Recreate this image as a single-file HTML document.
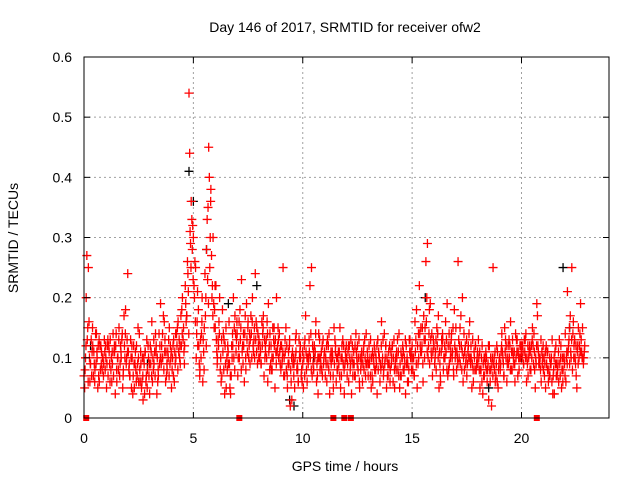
<!DOCTYPE html>
<html><head><meta charset="utf-8">
<style>
body{margin:0;background:#fff}
svg{display:block;font-family:"Liberation Sans",sans-serif}
</style></head>
<body>
<svg id="chart" width="640" height="480">
<rect width="640" height="480" fill="#fff"/>
<g id="grid"></g>
<g id="marks"></g>
<g id="axes"></g>
<text x="345" y="32" text-anchor="middle" font-size="14" fill="#000">Day 146 of 2017, SRMTID for receiver ofw2</text>
<text x="345" y="471" text-anchor="middle" font-size="14" fill="#000">GPS time / hours</text>
<text transform="translate(18,238) rotate(-90)" text-anchor="middle" font-size="14" fill="#000">SRMTID / TECUs</text>
</svg>
<script>
const xTicks=[0,5,10,15,20];
const yTicks=[0,0.1,0.2,0.3,0.4,0.5,0.6];
const yTickLabels=["0","0.1","0.2","0.3","0.4","0.5","0.6"];
const red1=[.07,.2,.25,.09,.12,.08,.1,.06,.11,.09,
.1,.07,.13,.09,.11,.06,.15,.1,.08,.18,
.24,.07,.1,.05,.12,.06,.09,.03,.11,.08,
.04,.16,.09,.12,.07,.19,.1,.13,.08,.15,
.05,.13,.1,.16,.09,.2,.12,.17,.54,.36,
.3,.25,.12,.08,.2,.15,.28,.45,.38,.3,
.15,.1,.2,.07,.13,.05,.09,.04,.12,.17,
.14,.1,.23,.12,.08,.16,.13,.2,.1,.15,
.13,.09,.17,.11,.06,.14,.08,.12,.2,.1,
.08,.25,.11,.05,.13,.03,.09,.14,.06,.1,
.09,.13,.06,.11,.25,.08,.16,.04,.1,.07,
.11,.06,.14,.09,.05,.12,.08,.15,.1,.04,
.1,.06,.13,.09,.07,.12,.05,.1,.08,.14,
.09,.13,.06,.11,.04,.1,.16,.08,.12,.07,
.08,.12,.05,.1,.14,.07,.11,.04,.09,.13,
.12,.07,.18,.1,.15,.06,.13,.29,.09,.14,
.12,.08,.17,.06,.13,.1,.19,.09,.14,.07,
.15,.26,.09,.2,.11,.07,.14,.1,.06,.12,
.09,.05,.12,.07,.1,.03,.08,.25,.06,.11,
.1,.14,.07,.12,.09,.16,.11,.06,.13,.1,
.12,.09,.14,.07,.11,.15,.08,.19,.1,.06,
.08,.05,.11,.07,.13,.04,.09,.06,.12,.08,
.14,.21,.09,.25,.12,.07,.15,.19,.1];
const red2=[.05,.27,.16,.13,.07,.14,.05,.12,.08,.13,
.05,.12,.08,.14,.04,.1,.07,.13,.17,.09,
.11,.13,.04,.09,.07,.14,.05,.1,.06,.12,
.12,.06,.11,.04,.14,.09,.17,.06,.11,.09,
.08,.06,.14,.11,.17,.13,.22,.26,.44,.33,
.22,.1,.18,.13,.06,.24,.33,.4,.27,.19,
.22,.13,.08,.18,.04,.1,.16,.07,.2,.14,
.07,.18,.11,.06,.19,.1,.17,.12,.24,.09,
.1,.16,.07,.13,.19,.09,.15,.05,.11,.14,
.12,.07,.15,.09,.02,.11,.05,.08,.13,.07,
.05,.17,.1,.22,.07,.12,.06,.14,.09,.13,
.07,.13,.04,.1,.15,.06,.11,.05,.13,.09,
.07,.12,.04,.11,.14,.08,.1,.06,.13,.09,
.12,.05,.1,.08,.13,.06,.09,.14,.05,.11,
.11,.06,.09,.13,.05,.1,.08,.12,.06,.1,
.08,.16,.05,.22,.11,.17,.26,.1,.19,.07,
.09,.15,.05,.11,.08,.16,.07,.12,.1,.18,
.08,.13,.17,.06,.12,.09,.16,.05,.11,.08,
.13,.08,.04,.1,.06,.12,.02,.09,.07,.05,
.08,.11,.15,.06,.13,.08,.1,.14,.07,.12,
.1,.13,.06,.1,.08,.12,.05,.17,.09,.11,
.1,.12,.06,.09,.04,.11,.07,.13,.05,.1,
.06,.11,.17,.08,.13,.05,.1,.13,.09];
const red3=[.1,.15,.06,.11,.09,.14,.07,.12,.1,.08,
.12,.09,.06,.11,.14,.08,.12,.05,.1,.13,
.09,.05,.12,.08,.15,.06,.1,.04,.13,.07,
.11,.08,.14,.06,.12,.1,.16,.07,.13,.1,
.12,.09,.15,.1,.18,.11,.16,.21,.29,.32,
.26,.16,.09,.14,.11,.2,.35,.3,.22,.18,
.11,.16,.06,.14,.09,.12,.05,.1,.15,.13,
.12,.15,.09,.17,.11,.14,.1,.13,.16,.12,
.11,.14,.1,.16,.12,.08,.13,.11,.15,.09,
.1,.07,.12,.09,.06,.1,.13,.08,.11,.06,
.12,.08,.1,.14,.09,.11,.07,.13,.08,.1,
.09,.12,.07,.1,.13,.08,.11,.07,.12,.1,
.11,.08,.12,.07,.1,.13,.09,.11,.07,.1,
.1,.07,.12,.09,.11,.08,.13,.1,.07,.12,
.1,.13,.08,.11,.07,.12,.09,.1,.13,.08,
.1,.13,.09,.12,.15,.1,.2,.14,.11,.13,
.11,.14,.09,.12,.1,.13,.08,.11,.15,.1,
.1,.12,.08,.14,.1,.12,.09,.13,.08,.1,
.08,.1,.07,.11,.09,.06,.1,.08,.12,.09,
.11,.09,.13,.1,.12,.08,.11,.13,.1,.12,
.11,.13,.09,.12,.1,.14,.09,.11,.08,.1,
.09,.11,.07,.1,.08,.12,.09,.07,.1,.09,
.11,.13,.1,.16,.09,.12,.14,.1,.11];
const red4=[.08,.13,.1,.07,.11,.09,.12,.08,.1,.11,
.09,.11,.1,.07,.12,.1,.09,.14,.12,.1,
.08,.1,.07,.11,.09,.08,.06,.09,.07,.1,
.09,.1,.07,.1,.09,.12,.08,.11,.1,.12,
.1,.11,.12,.13,.12,.15,.19,.24,.31,.28,
.2,.14,.12,.1,.13,.17,.23,.25,.2,.15,
.13,.12,.1,.11,.12,.08,.09,.12,.1,.11,
.1,.13,.12,.14,.13,.12,.14,.11,.13,.14,
.12,.12,.13,.1,.11,.12,.1,.13,.12,.11,
.09,.1,.08,.11,.08,.09,.1,.09,.1,.08,
.1,.11,.09,.1,.12,.1,.09,.1,.11,.09,
.1,.09,.1,.11,.09,.1,.09,.1,.09,.11,
.09,.1,.1,.09,.11,.1,.08,.09,.1,.11,
.09,.1,.09,.1,.08,.09,.1,.09,.1,.09,
.09,.1,.1,.08,.09,.1,.1,.09,.08,.11,
.1,.11,.12,.14,.12,.13,.16,.12,.13,.11,
.1,.12,.11,.13,.1,.11,.12,.1,.11,.12,
.11,.1,.12,.1,.09,.11,.1,.09,.1,.09,
.1,.08,.09,.09,.08,.08,.09,.1,.09,.08,
.09,.1,.11,.09,.1,.11,.09,.1,.11,.1,
.12,.11,.1,.11,.12,.09,.1,.12,.1,.09,
.07,.09,.08,.09,.07,.09,.08,.09,.08,.1,
.1,.12,.11,.14,.1,.11,.12,.11,.1];
const red5=[.12,.06,.09,.15,.06,.11,.13,.09,.07,.12,
.13,.06,.11,.12,.08,.13,.11,.07,.14,.11,
.07,.12,.09,.06,.1,.11,.07,.11,.05,.09,
.07,.13,.11,.08,.1,.14,.11,.09,.07,.11,
.07,.14,.08,.12,.14,.09,.17,.14,.25,.23,
.16,.21,.07,.16,.08,.12,.19,.36,.17,.22,
.09,.14,.13,.08,.15,.11,.07,.14,.08,.16,
.16,.08,.14,.1,.15,.09,.16,.15,.11,.1,
.09,.15,.12,.14,.08,.1,.15,.09,.13,.12,
.11,.13,.07,.12,.1,.07,.11,.06,.12,.11,
.07,.1,.13,.08,.11,.14,.1,.08,.12,.11,
.12,.08,.11,.07,.11,.1,.07,.12,.08,.12,
.12,.09,.07,.12,.09,.06,.11,.12,.09,.07,
.07,.11,.08,.12,.1,.12,.07,.12,.09,.06,
.12,.08,.11,.07,.11,.08,.13,.06,.11,.1,
.07,.09,.14,.11,.09,.15,.11,.18,.1,.12,
.13,.1,.07,.14,.12,.08,.14,.13,.08,.11,
.09,.15,.11,.08,.13,.1,.12,.08,.12,.11,
.11,.06,.1,.08,.12,.1,.07,.11,.06,.1,
.12,.07,.1,.12,.08,.13,.09,.11,.08,.11,
.09,.1,.12,.08,.13,.11,.12,.09,.13,.12,
.11,.08,.1,.06,.1,.07,.11,.1,.06,.07,
.09,.15,.13,.1,.12,.09,.11,.15,.12];
const blackTimes=[0.3,2.9,4.8,5.0,5.6,6.6,7.9,9.4,9.6,10.5,12.3,15.6,18.5,20.0,21.9,22.2];
const blackValues=[.12,.09,.41,.36,.28,.19,.22,.03,.02,.1,.09,.2,.05,.1,.25,.15];
const zeroTimes=[0.1,7.1,11.4,11.9,12.2,20.7];

const L=84,R=609,T=57,B=418,XMAX=24,YMAX=0.6;
const xs=v=>L+(R-L)*v/XMAX;
const ys=v=>B-(B-T)*v/YMAX;
const NS="http://www.w3.org/2000/svg";
function mk(tag,attrs,parent){const e=document.createElementNS(NS,tag);for(const k in attrs)e.setAttribute(k,attrs[k]);parent.appendChild(e);return e;}
const grid=document.getElementById('grid'),marks=document.getElementById('marks'),axes=document.getElementById('axes');

xTicks.forEach(t=>{
  if(t>0){const g=mk('line',{x1:xs(t),x2:xs(t),y1:T,y2:B,stroke:'#a0a0a0','stroke-dasharray':'2,3'},grid);
  
  }
  const tk=mk('line',{x1:xs(t),x2:xs(t),y1:B,y2:B-6,stroke:'#000'},axes);
  
  
  const tk2=mk('line',{x1:xs(t),x2:xs(t),y1:T,y2:T+6,stroke:'#000'},axes);
  
  
  const lb=mk('text',{x:xs(t),y:B+25,'text-anchor':'middle','font-size':14},axes);
  lb.textContent=String(t);
  
  
});
yTicks.forEach((t,i)=>{
  if(t>0&&t<YMAX){const g=mk('line',{x1:L,x2:R,y1:ys(t),y2:ys(t),stroke:'#a0a0a0','stroke-dasharray':'2,3'},grid);
  
  }
  const tk=mk('line',{x1:L,x2:L+6,y1:ys(t),y2:ys(t),stroke:'#000'},axes);
  
  
  const tk2=mk('line',{x1:R,x2:R-6,y1:ys(t),y2:ys(t),stroke:'#000'},axes);
  
  
  const lb=mk('text',{x:L-12,y:ys(t)+5,'text-anchor':'end','font-size':14},axes);
  lb.textContent=yTickLabels[i];
  
  
});
const frame=mk('rect',{x:L,y:T,width:R-L,height:B-T,fill:'none',stroke:'#000'},axes);



function cross(t,v,col,name){
  const x=xs(t),y=ys(v);
  const p=mk('path',{d:`M${x-4.5},${y}h9M${x},${y-4.5}v9`,stroke:col,'stroke-width':1.3,fill:'none'},marks);
  
  
}
blackTimes.forEach((t,i)=>cross(t,blackValues[i],'#000','black-point'));
red1.forEach((v,i)=>cross(i*0.1,v,'#ff0000','red-point'));
red2.forEach((v,i)=>cross(i*0.1+0.03,v,'#ff0000','red-point'));
red3.forEach((v,i)=>cross(i*0.1+0.07,v,'#ff0000','red-point'));
red4.forEach((v,i)=>cross(i*0.1+0.05,v,'#ff0000','red-point'));
red5.forEach((v,i)=>cross(i*0.1+0.09,v,'#ff0000','red-point'));
zeroTimes.forEach(t=>{
  const r=mk('rect',{x:xs(t)-3,y:B-3,width:6,height:6,fill:'#ff0000'},marks);
  
  
});
</script>
</body></html>
